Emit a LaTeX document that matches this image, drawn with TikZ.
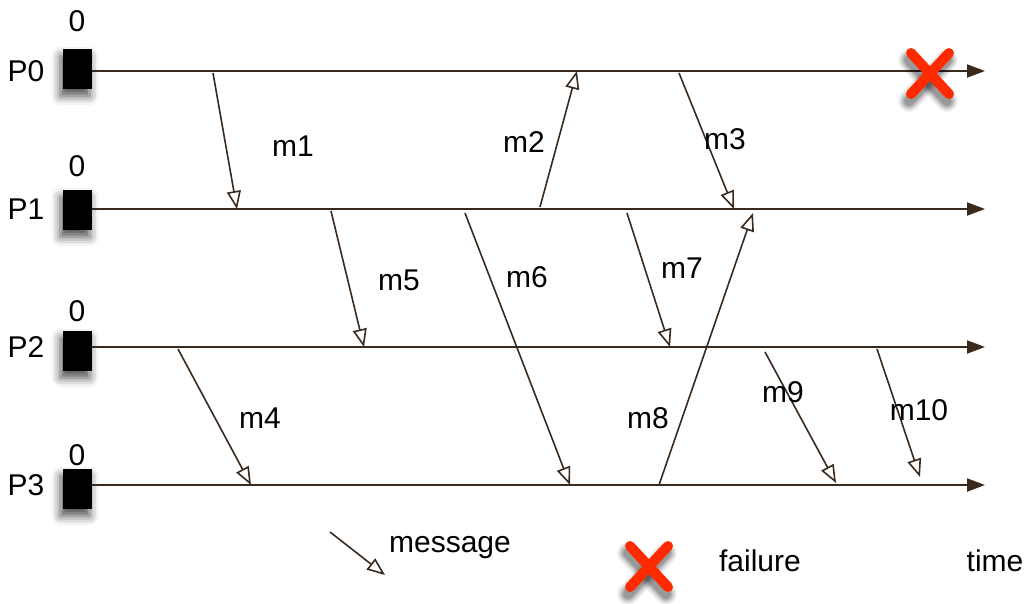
\documentclass[tikz,border=0pt]{standalone}
\usepackage{fontspec}
\setmainfont{Liberation Sans}
\usetikzlibrary{arrows.meta,shadows.blur}
\definecolor{ln}{RGB}{58,42,30}
\definecolor{xred}{RGB}{255,42,0}
\tikzset{
  txt/.style={font=\fontsize{30}{32}\selectfont, inner sep=0pt, anchor=center},
  proc/.style={draw=ln, line width=2pt, -{Triangle[length=18pt,width=13pt]}, ln},
  msg/.style={draw=ln, line width=1.6pt, -{Triangle[open,length=18pt,width=14pt,line width=1.6pt]}},
  startbox/.style={fill=black, minimum width=29pt, minimum height=40pt, inner sep=0pt,
    blur shadow={shadow xshift=-2pt, shadow yshift=-7pt, shadow blur radius=9pt, shadow opacity=70}},
}
\newcommand{\failmark}[2]{%
  \foreach \w/\o in {22/0.05,19/0.07,16/0.09,13/0.12,10/0.15}{
    \draw[line width=\w pt, black, opacity=\o, line cap=round] (#1-21,#2-18+5) -- (#1+17,#2+23+5);
    \draw[line width=\w pt, black, opacity=\o, line cap=round] (#1+17,#2-18+5) -- (#1-21,#2+23+5);
  }
  \draw[line width=10pt, xred, line cap=round] (#1-19,#2-20) -- (#1+19,#2+21);
  \draw[line width=10pt, xred, line cap=round] (#1+19,#2-20) -- (#1-19,#2+21);
}
\begin{document}
\begin{tikzpicture}[x=1pt,y=-1pt]
\useasboundingbox (0,0) rectangle (1029,603);
% process start boxes
\node[startbox] (b0) at (77,69) {};
\node[startbox] (b1) at (77,210) {};
\node[startbox] (b2) at (77,351) {};
\node[startbox] (b3) at (77,489) {};
% labels
\node[txt] (p0) at (26,71) {P0};
\node[txt] (p1) at (26,209) {P1};
\node[txt] (p2) at (26,347) {P2};
\node[txt] (p3) at (26,485) {P3};
\node[txt] (z0) at (77,21) {0};
\node[txt] (z1) at (77,166) {0};
\node[txt] (z2) at (77,311) {0};
\node[txt] (z3) at (77,455) {0};
% time line ends
\coordinate (e0) at (985,71);
\coordinate (e1) at (985,209);
\coordinate (e2) at (985,347);
\coordinate (e3) at (985,485);
\draw[proc] (b0.east |- e0) -- (e0);
\draw[proc] (b1.east |- e1) -- (e1);
\draw[proc] (b2.east |- e2) -- (e2);
\draw[proc] (b3.east |- e3) -- (e3);
% message endpoints
\coordinate (m1s) at (213,73);  \coordinate (m1e) at (237,209);
\coordinate (m2s) at (540,207); \coordinate (m2e) at (577,71);
\coordinate (m3s) at (679,73);  \coordinate (m3e) at (734,209);
\coordinate (m5s) at (331,211); \coordinate (m5e) at (364,347);
\coordinate (m6s) at (465,213); \coordinate (m6e) at (570,485);
\coordinate (m7s) at (627,213); \coordinate (m7e) at (670,347);
\coordinate (m4s) at (178,349); \coordinate (m4e) at (251,485);
\coordinate (m8s) at (659,485); \coordinate (m8e) at (753,213);
\coordinate (m9s) at (765,352); \coordinate (m9e) at (836,483);
\coordinate (m10s) at (877,349); \coordinate (m10e) at (920,477);
\draw[msg] (m1s) -- (m1e);
\draw[msg] (m2s) -- (m2e);
\draw[msg] (m3s) -- (m3e);
\draw[msg] (m5s) -- (m5e);
\draw[msg] (m6s) -- (m6e);
\draw[msg] (m7s) -- (m7e);
\draw[msg] (m4s) -- (m4e);
\draw[msg] (m8s) -- (m8e);
\draw[msg] (m9s) -- (m9e);
\draw[msg] (m10s) -- (m10e);
% message labels
\node[txt] (l1) at (293,146) {m1};
\node[txt] (l2) at (524,142) {m2};
\node[txt] (l3) at (725,139) {m3};
\node[txt] (l5) at (399,280) {m5};
\node[txt] (l6) at (527,277) {m6};
\node[txt] (l7) at (682,268) {m7};
\node[txt] (l4) at (260,418) {m4};
\node[txt] (l8) at (648,418) {m8};
\node[txt] (l9) at (783,392) {m9};
\node[txt] (l10) at (919,410) {m10};
% failure on P0
\failmark{930}{73}
% legend
\coordinate (ls) at (330,532); \coordinate (le) at (385,575);
\draw[msg] (ls) -- (le);
\node[txt] (lmsg) at (450,548) {message};
\failmark{649}{566}
\node[txt] (lfail) at (760,561) {failure};
\node[txt] (ltime) at (995,561) {time};
\end{tikzpicture}
\end{document}
